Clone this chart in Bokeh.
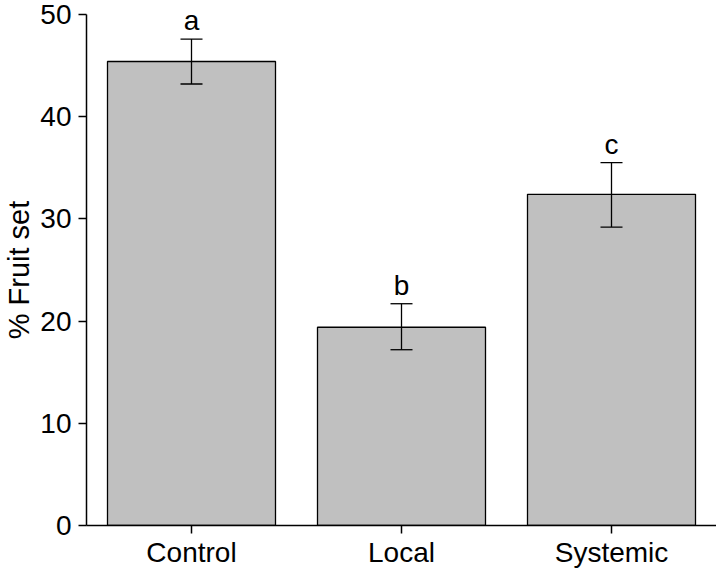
from bokeh.plotting import figure
from bokeh.models import ColumnDataSource, Whisker, FactorRange, Range1d, LabelSet
from bokeh.embed import file_html
from bokeh.resources import INLINE
from bokeh.core.properties import value

categories = ["Control", "Local", "Systemic"]
fruit_set = [45.4, 19.4, 32.4]
err_lower = [43.2, 17.2, 29.2]
err_upper = [47.6, 21.7, 35.5]
letters = ["a", "b", "c"]
y_ticks = [0, 10, 20, 30, 40, 50]

FONT = "Liberation Sans"

src = ColumnDataSource(dict(cat=categories, val=fruit_set, lo=err_lower,
                            hi=err_upper, let=letters))

p = figure(width=716, height=570, output_backend="svg", toolbar_location=None,
           x_range=FactorRange(*categories, range_padding=0),
           y_range=Range1d(0, 50),
           min_border=0, min_border_top=14, min_border_bottom=0,
           min_border_right=0, min_border_left=85)
p.outline_line_color = None
p.grid.grid_line_color = None
p.background_fill_color = "white"
p.border_fill_color = "white"

p.vbar(x="cat", top="val", width=0.8, bottom=0, source=src,
       fill_color="#c0c0c0", line_color="black", line_width=1.3)

w = Whisker(base="cat", lower="lo", upper="hi", source=src,
            line_color="black", line_width=1.3, level="overlay")
w.upper_head.size = 22
w.lower_head.size = 22
w.upper_head.line_width = 1.3
w.lower_head.line_width = 1.3
w.upper_head.line_color = "black"
w.lower_head.line_color = "black"
p.add_layout(w)

labels = LabelSet(x="cat", y="hi", text="let", source=src, y_offset=9,
                  text_align="center", text_baseline="alphabetic",
                  text_font=value(FONT), text_font_size="28px",
                  text_color="black", level="overlay")
p.add_layout(labels)

for ax in (p.xaxis[0], p.yaxis[0]):
    ax.axis_line_width = 1.5
    ax.axis_line_color = "black"
    ax.major_tick_line_width = 1.5
    ax.major_tick_line_color = "black"
    ax.major_tick_in = 0
    ax.major_tick_out = 8
    ax.minor_tick_line_color = None
    ax.major_label_text_font = FONT
    ax.major_label_text_font_size = "28px"
    ax.major_label_text_color = "black"

p.yaxis.ticker = y_ticks
p.yaxis.major_label_standoff = 7
p.yaxis.axis_label = "% Fruit set"
p.yaxis.axis_label_text_font = FONT
p.yaxis.axis_label_text_font_size = "29px"
p.yaxis.axis_label_text_font_style = "normal"
p.yaxis.axis_label_text_color = "black"
p.yaxis.axis_label_text_line_height = 0.8
p.yaxis.axis_label_standoff = 2
p.xaxis.major_label_standoff = 3

open("out.html", "w").write(file_html(p, INLINE))
